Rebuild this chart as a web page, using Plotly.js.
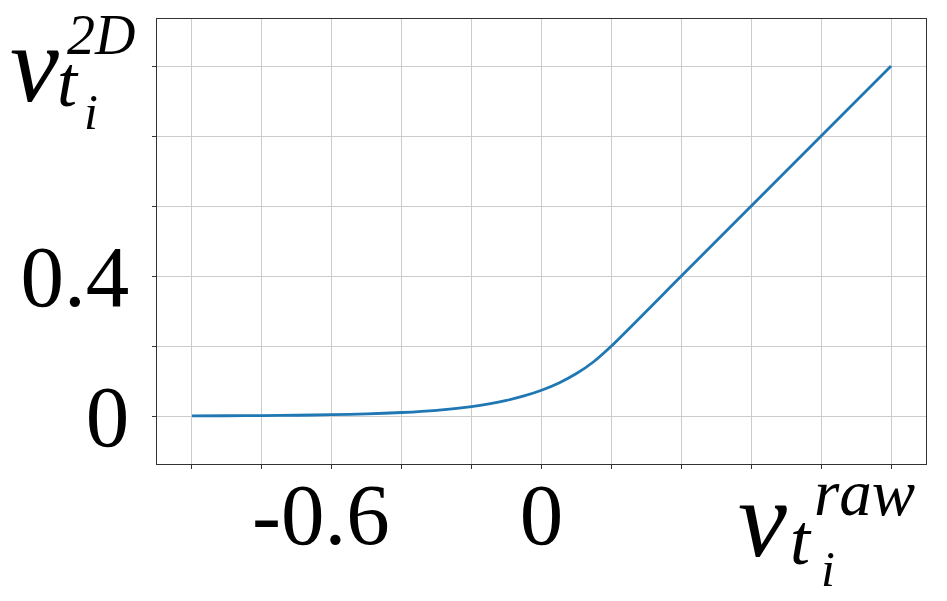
<!DOCTYPE html>
<html>
<head>
<meta charset="utf-8">
<script src="https://cdn.plot.ly/plotly-3.0.1.min.js"></script>
<style>html,body{margin:0;padding:0;background:#fff;}#chart{width:947px;height:601px;}</style>
</head>
<body>
<div id="chart"></div>
<script>
// curve values
const xRaw = [-1.0, -0.9, -0.8, -0.7, -0.6, -0.5, -0.4, -0.3, -0.2, -0.15, -0.1, -0.05, 0.0, 0.05, 0.1, 0.15, 0.2, 0.4, 0.6, 0.8, 1.0];
const y2D  = [0.0005, 0.0008, 0.0013, 0.0022, 0.0037, 0.006, 0.010, 0.0164, 0.0271, 0.0348, 0.0446, 0.0573, 0.0736, 0.0945, 0.1213, 0.1558, 0.2, 0.4, 0.6, 0.8, 1.0];

const xTickVals = [-1.0, -0.8, -0.6, -0.4, -0.2, 0.0, 0.2, 0.4, 0.6, 0.8, 1.0];
const xTickText = ['', '', '-0.6\u00a0', '', '', '0', '', '', '', '', ''];
const yTickVals = [0.0, 0.2, 0.4, 0.6, 0.8, 1.0];
const yTickText = ['0', '', '0.4', '', '', ''];

const W = 947, H = 601, ML = 157, MR = 21, MT = 19, MB = 137;
const PW = W - ML - MR, PH = H - MT - MB;
function px(x){ return (x - ML) / PW; }
function py(y){ return (H - MB - y) / PH; }
const serif = 'Liberation Serif';
function piece(text, cx, cy, size){
  return {text: '<i>' + text + '</i>', xref: 'paper', yref: 'paper', x: px(cx), y: py(cy),
    xanchor: 'center', yanchor: 'middle', showarrow: false, borderpad: 0,
    font: {family: serif, size: size, color: '#000'}};
}
const annotations = [
  // y label v^{2D}_{t_i}
  piece('v', 34, 64, 110), piece('2D', 101, 35, 56), piece('t', 68, 82, 72), piece('i', 91, 112, 50),
  // x label v^{raw}_{t_i}
  piece('v', 762, 519, 110), piece('raw', 864, 493, 65), piece('t', 801, 540, 72), piece('i', 828, 569, 50)
];

const trace = {x: xRaw, y: y2D, type: 'scatter', mode: 'lines',
  line: {color: '#1f77b4', width: 2.8, shape: 'spline', smoothing: 0.6}, hoverinfo: 'skip'};

const axisCommon = {showline: true, mirror: true, linecolor: '#333', linewidth: 1.3,
  ticks: 'outside', ticklen: 4, tickwidth: 1, tickcolor: '#333',
  showgrid: true, gridcolor: '#cccccc', gridwidth: 1, zeroline: false,
  tickfont: {family: serif, size: 87, color: '#000'}, tickmode: 'array'};

const layout = {
  width: W, height: H, margin: {l: ML, r: MR, t: MT, b: MB},
  paper_bgcolor: '#fff', plot_bgcolor: '#fff', showlegend: false,
  font: {family: serif},
  xaxis: Object.assign({}, axisCommon, {range: [-1.1, 1.1], tickvals: xTickVals, ticktext: xTickText, ticklabelstandoff: -30}),
  yaxis: Object.assign({}, axisCommon, {range: [-0.1371, 1.1343], tickvals: yTickVals, ticktext: yTickText, ticklabelstandoff: 5}),
  annotations: annotations
};
Plotly.newPlot('chart', [trace], layout, {displayModeBar: false, staticPlot: true});
</script>
</body>
</html>
